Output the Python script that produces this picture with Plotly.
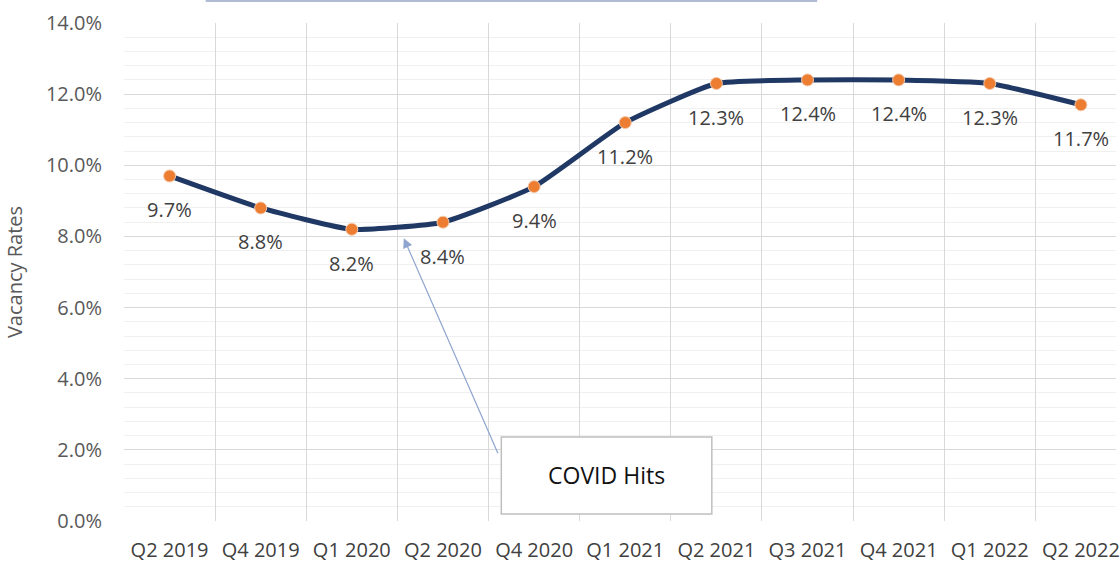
import plotly.graph_objects as go

quarters = ["Q2 2019", "Q4 2019", "Q1 2020", "Q2 2020", "Q4 2020", "Q1 2021",
            "Q2 2021", "Q3 2021", "Q4 2021", "Q1 2022", "Q2 2022"]
vacancy = [9.7, 8.8, 8.2, 8.4, 9.4, 11.2, 12.3, 12.4, 12.4, 12.3, 11.7]
labels = ["9.7%", "8.8%", "8.2%", "8.4%", "9.4%", "11.2%", "12.3%", "12.4%", "12.4%", "12.3%", "11.7%"]
y_ticks = [0, 2, 4, 6, 8, 10, 12, 14]

FONT = "Open Sans"
fig = go.Figure()
fig.add_trace(go.Scatter(
    x=quarters, y=vacancy, mode="lines+markers",
    line=dict(color="#1f3864", width=5, shape="spline", smoothing=0.45),
    marker=dict(color="#ed7d31", size=12, line=dict(color="#f4c7a8", width=1)),
    hoverinfo="skip", showlegend=False,
))

for q, v, t in zip(quarters, vacancy, labels):
    fig.add_annotation(x=q, y=v, text=t, showarrow=False, yshift=-34,
                       font=dict(family=FONT, size=20, color="#404040"))

# COVID annotation box and arrow
fig.add_shape(type="rect", xref="x", yref="y", x0=3.64, x1=5.95, y0=0.2, y1=2.36,
              line=dict(color="#bfbfbf", width=1.5), fillcolor="white", layer="above")
fig.add_annotation(x=4.795, y=1.28, xref="x", yref="y", text="COVID Hits", showarrow=False,
                   font=dict(family=FONT, size=23, color="#111111"))
fig.add_annotation(x=2.57, y=7.95, xref="x", yref="y", ax=3.61, ay=1.86, axref="x", ayref="y",
                   text="", showarrow=True, arrowhead=2, arrowsize=1.6, arrowwidth=1.2,
                   arrowcolor="#8fa5cf")

# remnant of title box border at top
fig.add_shape(type="line", xref="paper", yref="paper", x0=(206 - 124) / 996, x1=(820 - 124) / 996,
              y0=(521 - 1) / 498, y1=(521 - 1) / 498, line=dict(color="#b0bcd6", width=2))

fig.update_layout(
    width=1120, height=563,
    margin=dict(l=124, r=0, t=23, b=42),
    paper_bgcolor="white", plot_bgcolor="white",
    font=dict(family=FONT, size=20, color="#595959"),
    xaxis=dict(type="category", tickson="boundaries", showgrid=True, gridcolor="#d9d9d9",
               gridwidth=1, range=[-0.5, 10.385], ticks="", showline=False, zeroline=False,
               tickfont=dict(family=FONT, size=20, color="#404040"), ticklabelstandoff=15),
    yaxis=dict(range=[0, 14], tickvals=y_ticks, ticktext=[f"{v:.1f}%" for v in y_ticks],
               showgrid=True, gridcolor="#d9d9d9", gridwidth=1, zeroline=False,
               minor=dict(dtick=0.4, showgrid=True, gridcolor="#f0f0f0", gridwidth=1),
               title=dict(text="Vacancy Rates", font=dict(family=FONT, size=20, color="#595959"),
                          standoff=17),
               tickfont=dict(family=FONT, size=20, color="#595959"), ticklabelstandoff=21),
)

fig.write_html("out.html", config={"displayModeBar": False},
               post_script="document.body.style.margin='0px';")
